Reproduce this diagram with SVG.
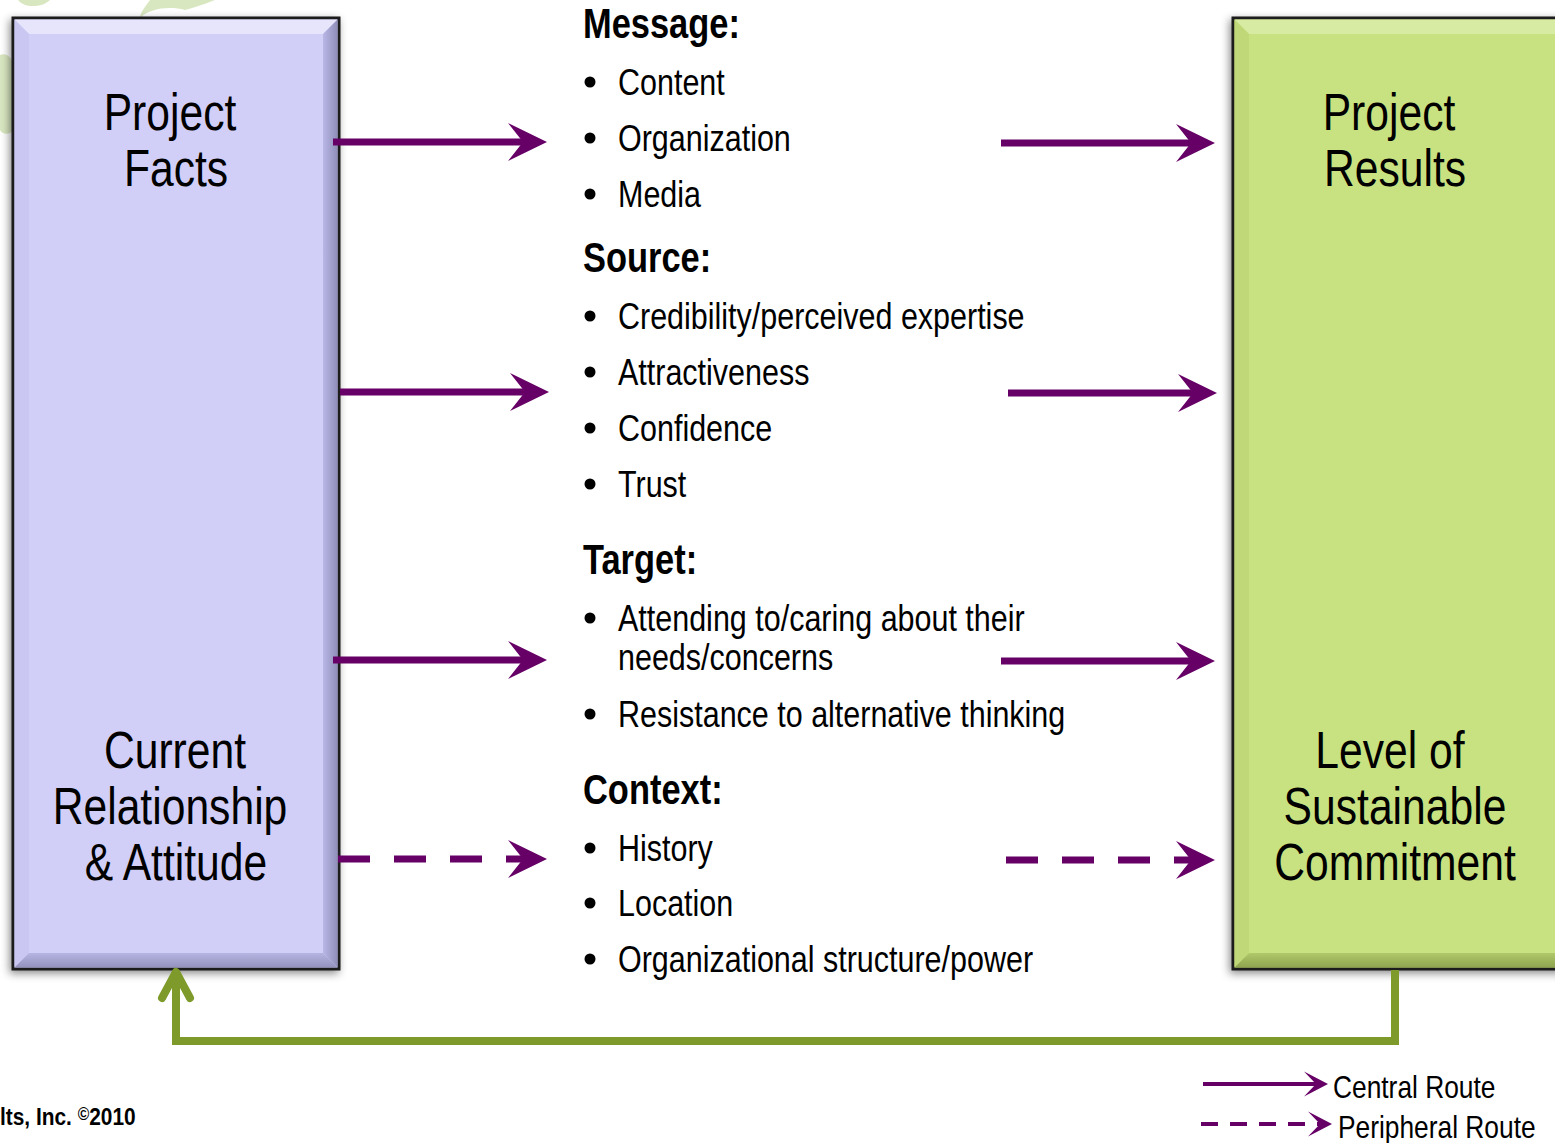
<svg xmlns="http://www.w3.org/2000/svg" width="1555" height="1143" viewBox="0 0 1555 1143">
<style>
  .t { font-family: "Liberation Sans", Arial, sans-serif; fill: #000; }
  .box { font-size: 52px; text-anchor: middle; }
  .hd { font-size: 42px; font-weight: bold; }
  .it { font-size: 37px; }
  .lg { font-size: 31px; }
  .cp { font-size: 24px; font-weight: bold; }
  .arrow { fill: none; stroke: #660066; stroke-width: 7; marker-end: url(#ah); }
  .dash { stroke-dasharray: 32 24; }
  .bul { fill: #000; }
</style>
<defs>
  <marker id="ah" markerUnits="userSpaceOnUse" markerWidth="40" markerHeight="40" viewBox="0 -20 40 40" refX="15" refY="0" orient="auto" overflow="visible">
    <path d="M0,-19 L39,0 L0,19 L15,0 z" fill="#660066"/>
  </marker>
  <marker id="ahs" markerUnits="userSpaceOnUse" markerWidth="26" markerHeight="26" viewBox="0 -13 26 26" refX="12" refY="0" orient="auto" overflow="visible">
    <path d="M0,-12.5 L24,0 L0,12.5 L12,0 z" fill="#660066"/>
  </marker>
  <filter id="sh" x="-10%" y="-5%" width="120%" height="110%">
    <feDropShadow dx="-2" dy="3" stdDeviation="4" flood-color="#000" flood-opacity="0.45"/>
  </filter>
  <linearGradient id="lR" x1="0" y1="0" x2="1" y2="0">
    <stop offset="0" stop-color="#b9b7e6"/><stop offset="1" stop-color="#8f8db8"/>
  </linearGradient>
  <linearGradient id="lB" x1="0" y1="0" x2="0" y2="1">
    <stop offset="0" stop-color="#b6b4e2"/><stop offset="1" stop-color="#9492bd"/>
  </linearGradient>
  <linearGradient id="gB" x1="0" y1="0" x2="0" y2="1">
    <stop offset="0" stop-color="#b0c86a"/><stop offset="1" stop-color="#8fa44e"/>
  </linearGradient>
</defs>

<rect width="1555" height="1143" fill="#ffffff"/>

<g id="background" fill="#d8e7c0">
  <path d="M18,0 C22,6 34,8 44,4 C48,2 50,0 50,0 Z"/>
  <path d="M140,18 C150,8 170,6 185,10 C200,6 210,2 215,0 L150,0 C146,6 140,12 140,18 Z"/>
  <path d="M0,55 C8,52 14,60 14,70 L14,130 C8,136 2,134 0,130 Z"/>
</g>

<g id="node-left" filter="url(#sh)">
  <rect x="13" y="18" width="326" height="951" fill="#d1cff8" stroke="#1a1a1a" stroke-width="3"/>
  <polygon points="14.5,19.5 337.5,19.5 323,34 29,34" fill="#e6e5fc"/>
  <polygon points="14.5,19.5 29,34 29,953 14.5,967.5" fill="#cac8f2"/>
  <polygon points="337.5,19.5 337.5,967.5 323,953 323,34" fill="url(#lR)"/>
  <polygon points="14.5,967.5 29,953 323,953 337.5,967.5" fill="url(#lB)"/>
</g>
<g id="node-left-text">
  <text class="t box" transform="translate(170,130) scale(0.82,1)">Project</text>
  <text class="t box" transform="translate(176,186) scale(0.82,1)">Facts</text>
  <text class="t box" transform="translate(175,768) scale(0.82,1)">Current</text>
  <text class="t box" transform="translate(170,824) scale(0.82,1)">Relationship</text>
  <text class="t box" transform="translate(176,880) scale(0.82,1)">&amp; Attitude</text>
</g>

<g id="node-right" filter="url(#sh)">
  <rect x="1233" y="18" width="330" height="951" fill="#c9e281" stroke="#1a1a1a" stroke-width="3"/>
  <polygon points="1234.5,19.5 1563,19.5 1563,34 1249,34" fill="#d8eba2"/>
  <polygon points="1234.5,19.5 1249,34 1249,953 1234.5,967.5" fill="#c0d877"/>
  <polygon points="1234.5,967.5 1249,953 1563,953 1563,967.5" fill="url(#gB)"/>
</g>
<g id="node-right-text">
  <text class="t box" transform="translate(1389,130) scale(0.82,1)">Project</text>
  <text class="t box" transform="translate(1395,186) scale(0.82,1)">Results</text>
  <text class="t box" transform="translate(1390,768) scale(0.82,1)">Level of</text>
  <text class="t box" transform="translate(1395,824) scale(0.82,1)">Sustainable</text>
  <text class="t box" transform="translate(1395,880) scale(0.82,1)">Commitment</text>
</g>

<g id="node-middle">
  <text class="t hd" transform="translate(583,38) scale(0.82,1)">Message:</text>
  <circle class="bul" cx="590" cy="82" r="5.5"/><text class="t it" transform="translate(618,95) scale(0.824,1)">Content</text>
  <circle class="bul" cx="590" cy="138" r="5.5"/><text class="t it" transform="translate(618,151) scale(0.824,1)">Organization</text>
  <circle class="bul" cx="590" cy="194" r="5.5"/><text class="t it" transform="translate(618,207) scale(0.824,1)">Media</text>

  <text class="t hd" transform="translate(583,272) scale(0.82,1)">Source:</text>
  <circle class="bul" cx="590" cy="316" r="5.5"/><text class="t it" transform="translate(618,329) scale(0.824,1)">Credibility/perceived expertise</text>
  <circle class="bul" cx="590" cy="372" r="5.5"/><text class="t it" transform="translate(618,385) scale(0.824,1)">Attractiveness</text>
  <circle class="bul" cx="590" cy="428" r="5.5"/><text class="t it" transform="translate(618,441) scale(0.824,1)">Confidence</text>
  <circle class="bul" cx="590" cy="484" r="5.5"/><text class="t it" transform="translate(618,497) scale(0.824,1)">Trust</text>

  <text class="t hd" transform="translate(583,574) scale(0.82,1)">Target:</text>
  <circle class="bul" cx="590" cy="618" r="5.5"/><text class="t it" transform="translate(618,631) scale(0.824,1)">Attending to/caring about their</text>
  <text class="t it" transform="translate(618,670) scale(0.824,1)">needs/concerns</text>
  <circle class="bul" cx="590" cy="714" r="5.5"/><text class="t it" transform="translate(618,727) scale(0.824,1)">Resistance to alternative thinking</text>

  <text class="t hd" transform="translate(583,804) scale(0.82,1)">Context:</text>
  <circle class="bul" cx="590" cy="848" r="5.5"/><text class="t it" transform="translate(618,861) scale(0.824,1)">History</text>
  <circle class="bul" cx="590" cy="903" r="5.5"/><text class="t it" transform="translate(618,916) scale(0.824,1)">Location</text>
  <circle class="bul" cx="590" cy="959" r="5.5"/><text class="t it" transform="translate(618,972) scale(0.824,1)">Organizational structure/power</text>
</g>

<g id="connectors">
  <path class="arrow" d="M333,142 H523"/>
  <path class="arrow" d="M1001,143 H1191"/>
  <path class="arrow" d="M340,392 H525"/>
  <path class="arrow" d="M1008,393 H1193"/>
  <path class="arrow" d="M333,660 H523"/>
  <path class="arrow" d="M1001,661 H1191"/>
  <path class="arrow dash" d="M338,859 H523"/>
  <path class="arrow dash" d="M1006,860 H1191"/>
  <path d="M1395,970 V1041 H176 V974" fill="none" stroke="#7e9a2b" stroke-width="8"/>
  <polyline points="162,998 176,972 190,998" fill="none" stroke="#7e9a2b" stroke-width="8" stroke-linecap="round" stroke-linejoin="round"/>
</g>

<g id="legend">
  <path d="M1203,1084 H1316" fill="none" stroke="#660066" stroke-width="4" marker-end="url(#ahs)"/>
  <text class="t lg" transform="translate(1333,1098) scale(0.85,1)">Central Route</text>
  <path d="M1201,1124 H1320" fill="none" stroke="#660066" stroke-width="4" stroke-dasharray="17 12" marker-end="url(#ahs)"/>
  <text class="t lg" transform="translate(1338,1138) scale(0.85,1)">Peripheral Route</text>
</g>

<g id="footer">
  <text class="t cp" transform="translate(0,1125) scale(0.87,1)">lts, Inc.  <tspan font-size="18" dy="-5">©</tspan><tspan dy="5">2010</tspan></text>
</g>
</svg>
